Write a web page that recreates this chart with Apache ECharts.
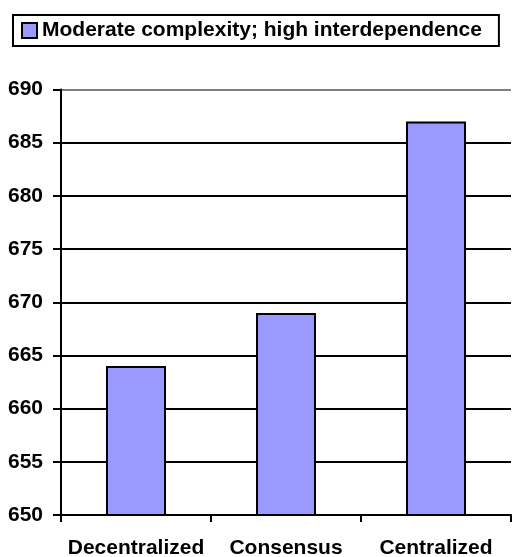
<!DOCTYPE html>
<html>
<head>
<meta charset="utf-8">
<style>html,body{margin:0;padding:0;background:#fff}#c{width:512px;height:557px}</style>
<script src="https://cdn.jsdelivr.net/npm/echarts@6/dist/echarts.min.js"></script>
</head>
<body>
<div id="c"></div>
<script>
var categories = ['Decentralized', 'Consensus', 'Centralized'];
var seriesName = 'Moderate complexity; high interdependence';
var values = [664, 669, 687];
var yMin = 650, yMax = 690, yStep = 5;

var font = 'Liberation Sans, Arial, sans-serif';
var chart = echarts.init(document.getElementById('c'));
var splitColors = [];
for (var v = yMin; v <= yMax; v += yStep) splitColors.push(v === yMax ? '#808080' : '#000000');

chart.setOption({
  animation: false,
  backgroundColor: '#ffffff',
  legend: {
    left: 13, top: 15,
    padding: [5, 17, 5, 8],
    borderColor: '#000', borderWidth: 2,
    itemWidth: 15, itemHeight: 15, itemGap: 5,
    icon: 'rect',
    itemStyle: { borderColor: '#000', borderWidth: 2 },
    textStyle: { fontFamily: font, fontWeight: 'bold', fontSize: 21, color: '#000', lineHeight: 20 },
    data: [seriesName]
  },
  grid: { left: 61, right: 1, top: 89.5, bottom: 42, containLabel: false, outerBoundsMode: 'none' },
  xAxis: {
    type: 'category',
    data: categories,
    axisLine: { lineStyle: { color: '#000', width: 2 } },
    axisTick: { show: true, interval: 0, length: 7, lineStyle: { color: '#000', width: 2 } },
    axisLabel: { interval: 0, margin: 23, fontFamily: font, fontWeight: 'bold', fontSize: 21, color: '#000' }
  },
  yAxis: {
    type: 'value', min: yMin, max: yMax, interval: yStep,
    axisLine: { show: true, lineStyle: { color: '#000', width: 2 } },
    axisTick: { show: true, length: 8, lineStyle: { color: '#000', width: 2 } },
    axisLabel: { margin: 18, fontFamily: font, fontWeight: 'bold', fontSize: 21, color: '#000' },
    splitLine: { show: true, lineStyle: { color: splitColors, width: 2 } }
  },
  series: [{
    name: seriesName,
    type: 'bar',
    data: values,
    barWidth: 60,
    itemStyle: { color: '#9999FF', borderColor: '#000', borderWidth: 2 }
  }]
});
</script>
</body>
</html>
